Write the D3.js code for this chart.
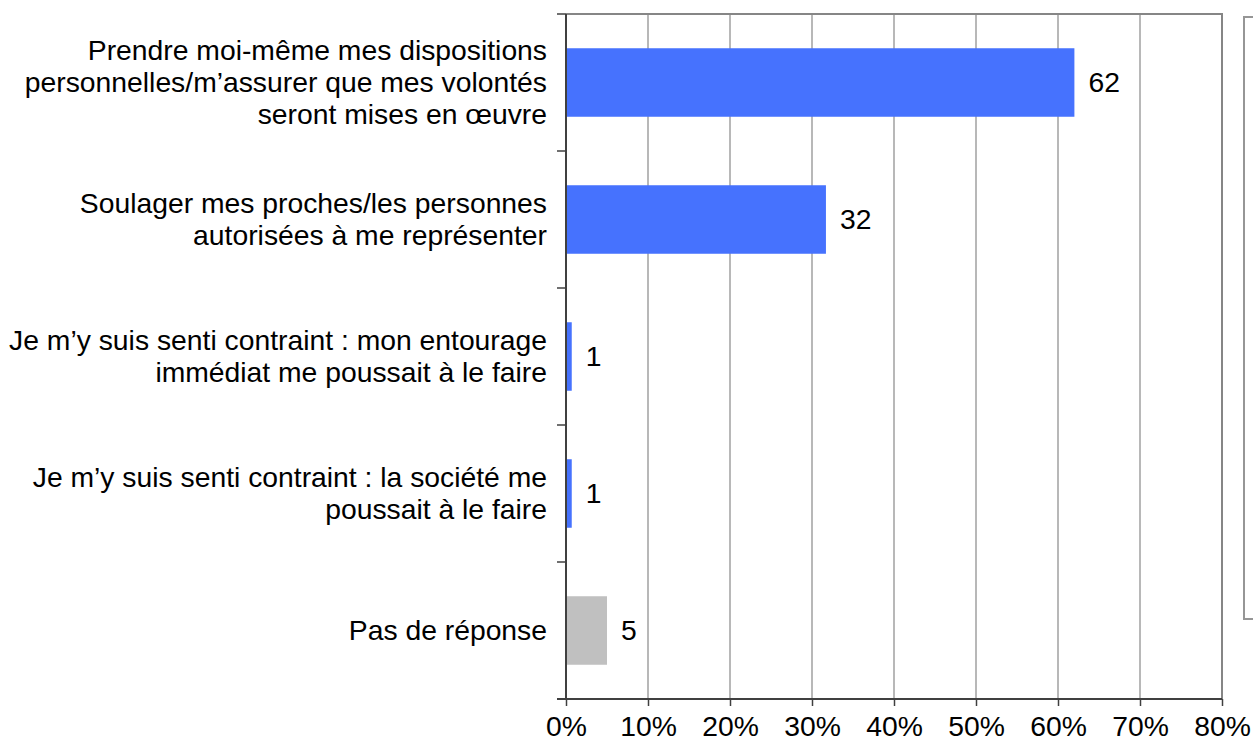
<!DOCTYPE html>
<html>
<head>
<meta charset="utf-8">
<script src="https://cdn.jsdelivr.net/npm/d3@7"></script>
<style>
  body { margin: 0; background: #fff; }
  svg { display: block; font-family: "Liberation Sans", Arial, sans-serif; }
</style>
</head>
<body>
<div id="chart"></div>
<script>
// categories (one entry per line of the label)
var categories = [
  ["Prendre moi-même mes dispositions", "personnelles/m’assurer que mes volontés", "seront mises en œuvre"],
  ["Soulager mes proches/les personnes", "autorisées à me représenter"],
  ["Je m’y suis senti contraint : mon entourage", "immédiat me poussait à le faire"],
  ["Je m’y suis senti contraint : la société me", "poussait à le faire"],
  ["Pas de réponse"]
];
var values = [62.0, 31.7, 0.7, 0.7, 5.0];
var barColors = ["#4672fe", "#4672fe", "#4672fe", "#4672fe", "#c0c0c0"];
var xTicks = [0, 10, 20, 30, 40, 50, 60, 70, 80];

var width = 1253, height = 744;
var plotL = 566, plotR = 1222, plotT = 14, plotB = 699;
var fs = 28.3;

var svg = d3.select("#chart").append("svg")
  .attr("width", width)
  .attr("height", height);

var x = d3.scaleLinear().domain([0, 80]).range([plotL, plotR]);
var y = d3.scaleBand()
  .domain(d3.range(categories.length))
  .range([plotT, plotB])
  .paddingInner(0.5)
  .paddingOuter(0.25);

// gridlines
svg.append("g").selectAll("line")
  .data(xTicks.slice(1, -1))
  .enter().append("line")
  .attr("x1", function (d) { return x(d); })
  .attr("x2", function (d) { return x(d); })
  .attr("y1", plotT)
  .attr("y2", plotB)
  .attr("stroke", "#a0a0a0")
  .attr("stroke-width", 1.5);

// plot frame top / right
svg.append("path")
  .attr("d", "M" + plotL + "," + plotT + "H" + plotR + "V" + plotB)
  .attr("fill", "none")
  .attr("stroke", "#868686")
  .attr("stroke-width", 2);

// bars
svg.append("g").selectAll("rect")
  .data(values)
  .enter().append("rect")
  .attr("x", x(0))
  .attr("y", function (d, i) { return y(i); })
  .attr("width", function (d) { return x(d) - x(0); })
  .attr("height", y.bandwidth())
  .attr("fill", function (d, i) { return barColors[i]; });

// value labels
svg.append("g").selectAll("text")
  .data(values)
  .enter().append("text")
  .attr("x", function (d) { return x(d) + 14; })
  .attr("y", function (d, i) { return y(i) + y.bandwidth() / 2; })
  .attr("dy", "0.35em")
  .attr("font-size", fs)
  .attr("fill", "#000")
  .text(function (d) { return d3.format(".0f")(d); });

// x axis
var xAxis = svg.append("g")
  .attr("transform", "translate(0," + plotB + ")")
  .call(d3.axisBottom(x).tickValues(xTicks).tickSize(7).tickPadding(10)
    .tickFormat(function (d) { return d + "%"; }));
xAxis.select(".domain").attr("stroke", "#404040").attr("stroke-width", 2)
  .attr("d", "M" + (plotL - 9) + ",0H" + plotR);
xAxis.selectAll(".tick line").attr("stroke", "#404040").attr("stroke-width", 1.5);
xAxis.selectAll(".tick text").attr("font-size", fs).attr("fill", "#000")
  .attr("font-family", "Liberation Sans, Arial, sans-serif");

// y axis line + ticks at band boundaries
var step = y.step();
var gap = step - y.bandwidth();
var bounds = d3.range(categories.length + 1).map(function (i) {
  return i < categories.length ? y(i) - gap / 2 : y(i - 1) + y.bandwidth() + gap / 2;
});
svg.append("line")
  .attr("x1", plotL).attr("x2", plotL)
  .attr("y1", plotT).attr("y2", plotB)
  .attr("stroke", "#404040").attr("stroke-width", 2);
svg.append("g").selectAll("line")
  .data(bounds)
  .enter().append("line")
  .attr("x1", plotL - 9).attr("x2", plotL)
  .attr("y1", function (d) { return d; })
  .attr("y2", function (d) { return d; })
  .attr("stroke", "#404040").attr("stroke-width", 1.5);

// category labels
var lineH = 32;
var cat = svg.append("g").selectAll("text")
  .data(categories)
  .enter().append("text")
  .attr("text-anchor", "end")
  .attr("font-size", fs)
  .attr("fill", "#000")
  .attr("y", function (d, i) {
    return y(i) + y.bandwidth() / 2 - (d.length - 1) * lineH / 2;
  });
cat.selectAll("tspan")
  .data(function (d) { return d; })
  .enter().append("tspan")
  .attr("x", 547)
  .attr("dy", function (d, j) { return j === 0 ? "0.35em" : lineH; })
  .text(function (d) { return d; });

// empty legend box on the right
svg.append("rect")
  .attr("x", 1244)
  .attr("y", 17)
  .attr("width", 40)
  .attr("height", 602)
  .attr("fill", "none")
  .attr("stroke", "#969696")
  .attr("stroke-width", 2);
</script>
</body>
</html>
